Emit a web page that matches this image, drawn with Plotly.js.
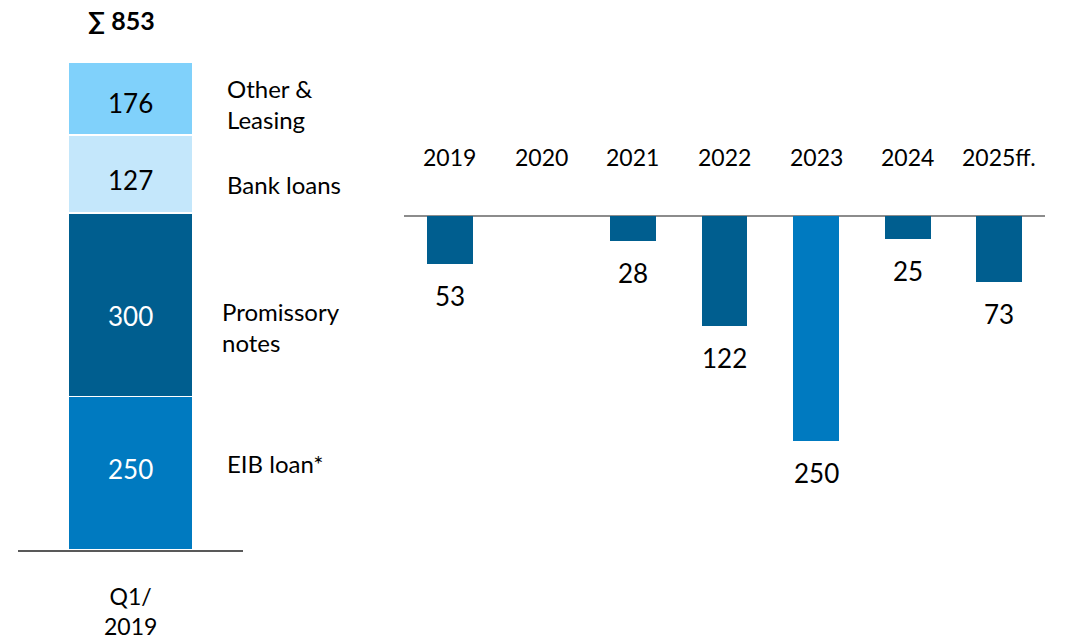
<!DOCTYPE html>
<html>
<head>
<meta charset="utf-8">
<script src="https://cdn.plot.ly/plotly-3.0.1.min.js"></script>
<style>html,body{margin:0;padding:0;background:#fff;}#chart{width:1070px;height:639px;}</style>
</head>
<body>
<div id="chart"></div>
<script>
// ---- Data ----
const stackCategory = ['Q1/2019'];
const stackLabels = ['EIB loan*', 'Promissory<br>notes', 'Bank loans', 'Other &<br>Leasing'];
const stackValues = [250, 300, 127, 176];
// bar lengths as drawn in the reference (top segment is drawn shortened)
const stackDrawn = [250, 300, 127, 119];
const years = ['2019', '2020', '2021', '2022', '2023', '2024', '2025ff.'];
const maturities = [53, 0, 28, 122, 250, 25, 73];

// ---- Styles ----
const FONT = 'Lato, "Open Sans", sans-serif';
const segColors = ['#007AC0', '#005E8F', '#C4E7FB', '#80D1FB'];
const segTextColors = ['#ffffff', '#ffffff', '#000000', '#000000'];
const numShift = [4, -11, -6, -5];
const labelX = [225, 220, 225, 225];
const labelShift = [10, -22, -11, -6];

const traces = [];
let cum = 0;
const annotations = [];
stackValues.forEach((v, i) => {
  traces.push({
    type: 'bar', x: [0], y: [stackDrawn[i]],
    xaxis: 'x', yaxis: 'y', width: 0.556,
    marker: {color: segColors[i], line: {color: '#ffffff', width: 1.5}},
    hoverinfo: 'skip', showlegend: false
  });
  const mid = cum + stackDrawn[i] / 2;
  cum += stackDrawn[i];
  annotations.push({
    text: String(v), xref: 'x', x: 0, xanchor: 'center',
    yref: 'y', y: mid, yanchor: 'middle', yshift: numShift[i], showarrow: false,
    font: {family: FONT, size: 26, color: segTextColors[i]}
  });
  annotations.push({
    text: stackLabels[i], xref: 'paper', x: labelX[i] / 1070, xanchor: 'left',
    yref: 'y', y: mid, yanchor: 'middle', yshift: labelShift[i],
    align: 'left', showarrow: false,
    font: {family: FONT, size: 24, color: '#000000'}
  });
});
const total = stackValues.reduce((a, b) => a + b, 0);
annotations.push({
  text: '<b>∑ ' + total + '</b>', xref: 'paper', x: 122 / 1070, xanchor: 'center',
  yref: 'paper', y: 1 - 20 / 639, yanchor: 'middle', showarrow: false,
  font: {family: FONT, size: 25, color: '#000000'}
});
annotations.push({
  text: stackCategory[0].replace('/', '/<br>'), xref: 'x', x: 0, xanchor: 'center',
  yref: 'paper', y: 1 - 611 / 639, yanchor: 'middle', showarrow: false,
  font: {family: FONT, size: 23, color: '#000000'}
});

traces.push({
  type: 'bar', x: years.map((y, i) => i), y: maturities.map(v => -v),
  xaxis: 'x2', yaxis: 'y2', width: 0.5,
  marker: {color: years.map(y => y === '2023' ? '#007AC0' : '#005E8F')},
  hoverinfo: 'skip', showlegend: false
});
years.forEach((y, i) => {
  annotations.push({
    text: y, xref: 'x2', x: i, xanchor: 'center',
    yref: 'paper', y: 1 - 157 / 639, yanchor: 'middle', showarrow: false,
    font: {family: FONT, size: 23, color: '#000000'}
  });
  if (maturities[i] > 0) {
    annotations.push({
      text: String(maturities[i]), xref: 'x2', x: i, xanchor: 'center',
      yref: 'y2', y: -maturities[i], yanchor: 'middle', yshift: -32, showarrow: false,
      font: {family: FONT, size: 26, color: '#000000'}
    });
  }
});

const yDom = [1 - 550 / 639, 1];
const layout = {
  width: 1070, height: 639,
  margin: {l: 0, r: 0, t: 0, b: 0},
  paper_bgcolor: '#ffffff', plot_bgcolor: 'rgba(0,0,0,0)',
  barmode: 'stack', showlegend: false,
  font: {family: FONT},
  xaxis: {domain: [18 / 1070, 243 / 1070], type: 'linear', range: [-0.5, 0.5],
    showticklabels: false, ticks: '', showgrid: false, zeroline: false,
    showline: true, linecolor: '#595959', linewidth: 2, fixedrange: true},
  yaxis: {domain: yDom, range: [0, 897], showticklabels: false, ticks: '',
    showgrid: false, zeroline: false, showline: false, fixedrange: true},
  xaxis2: {domain: [404 / 1070, 1045 / 1070], type: 'linear', anchor: 'y2', range: [-0.5, 6.5],
    showticklabels: false, ticks: '', showgrid: false, zeroline: false, showline: false},
  yaxis2: {domain: yDom, anchor: 'x2', range: [-371, 240], showticklabels: false, ticks: '',
    showgrid: false, zeroline: true, zerolinecolor: '#8C8C8C', zerolinewidth: 2, showline: false},
  annotations: annotations
};
Plotly.newPlot('chart', traces, layout, {displayModeBar: false, staticPlot: true});
</script>
</body>
</html>
